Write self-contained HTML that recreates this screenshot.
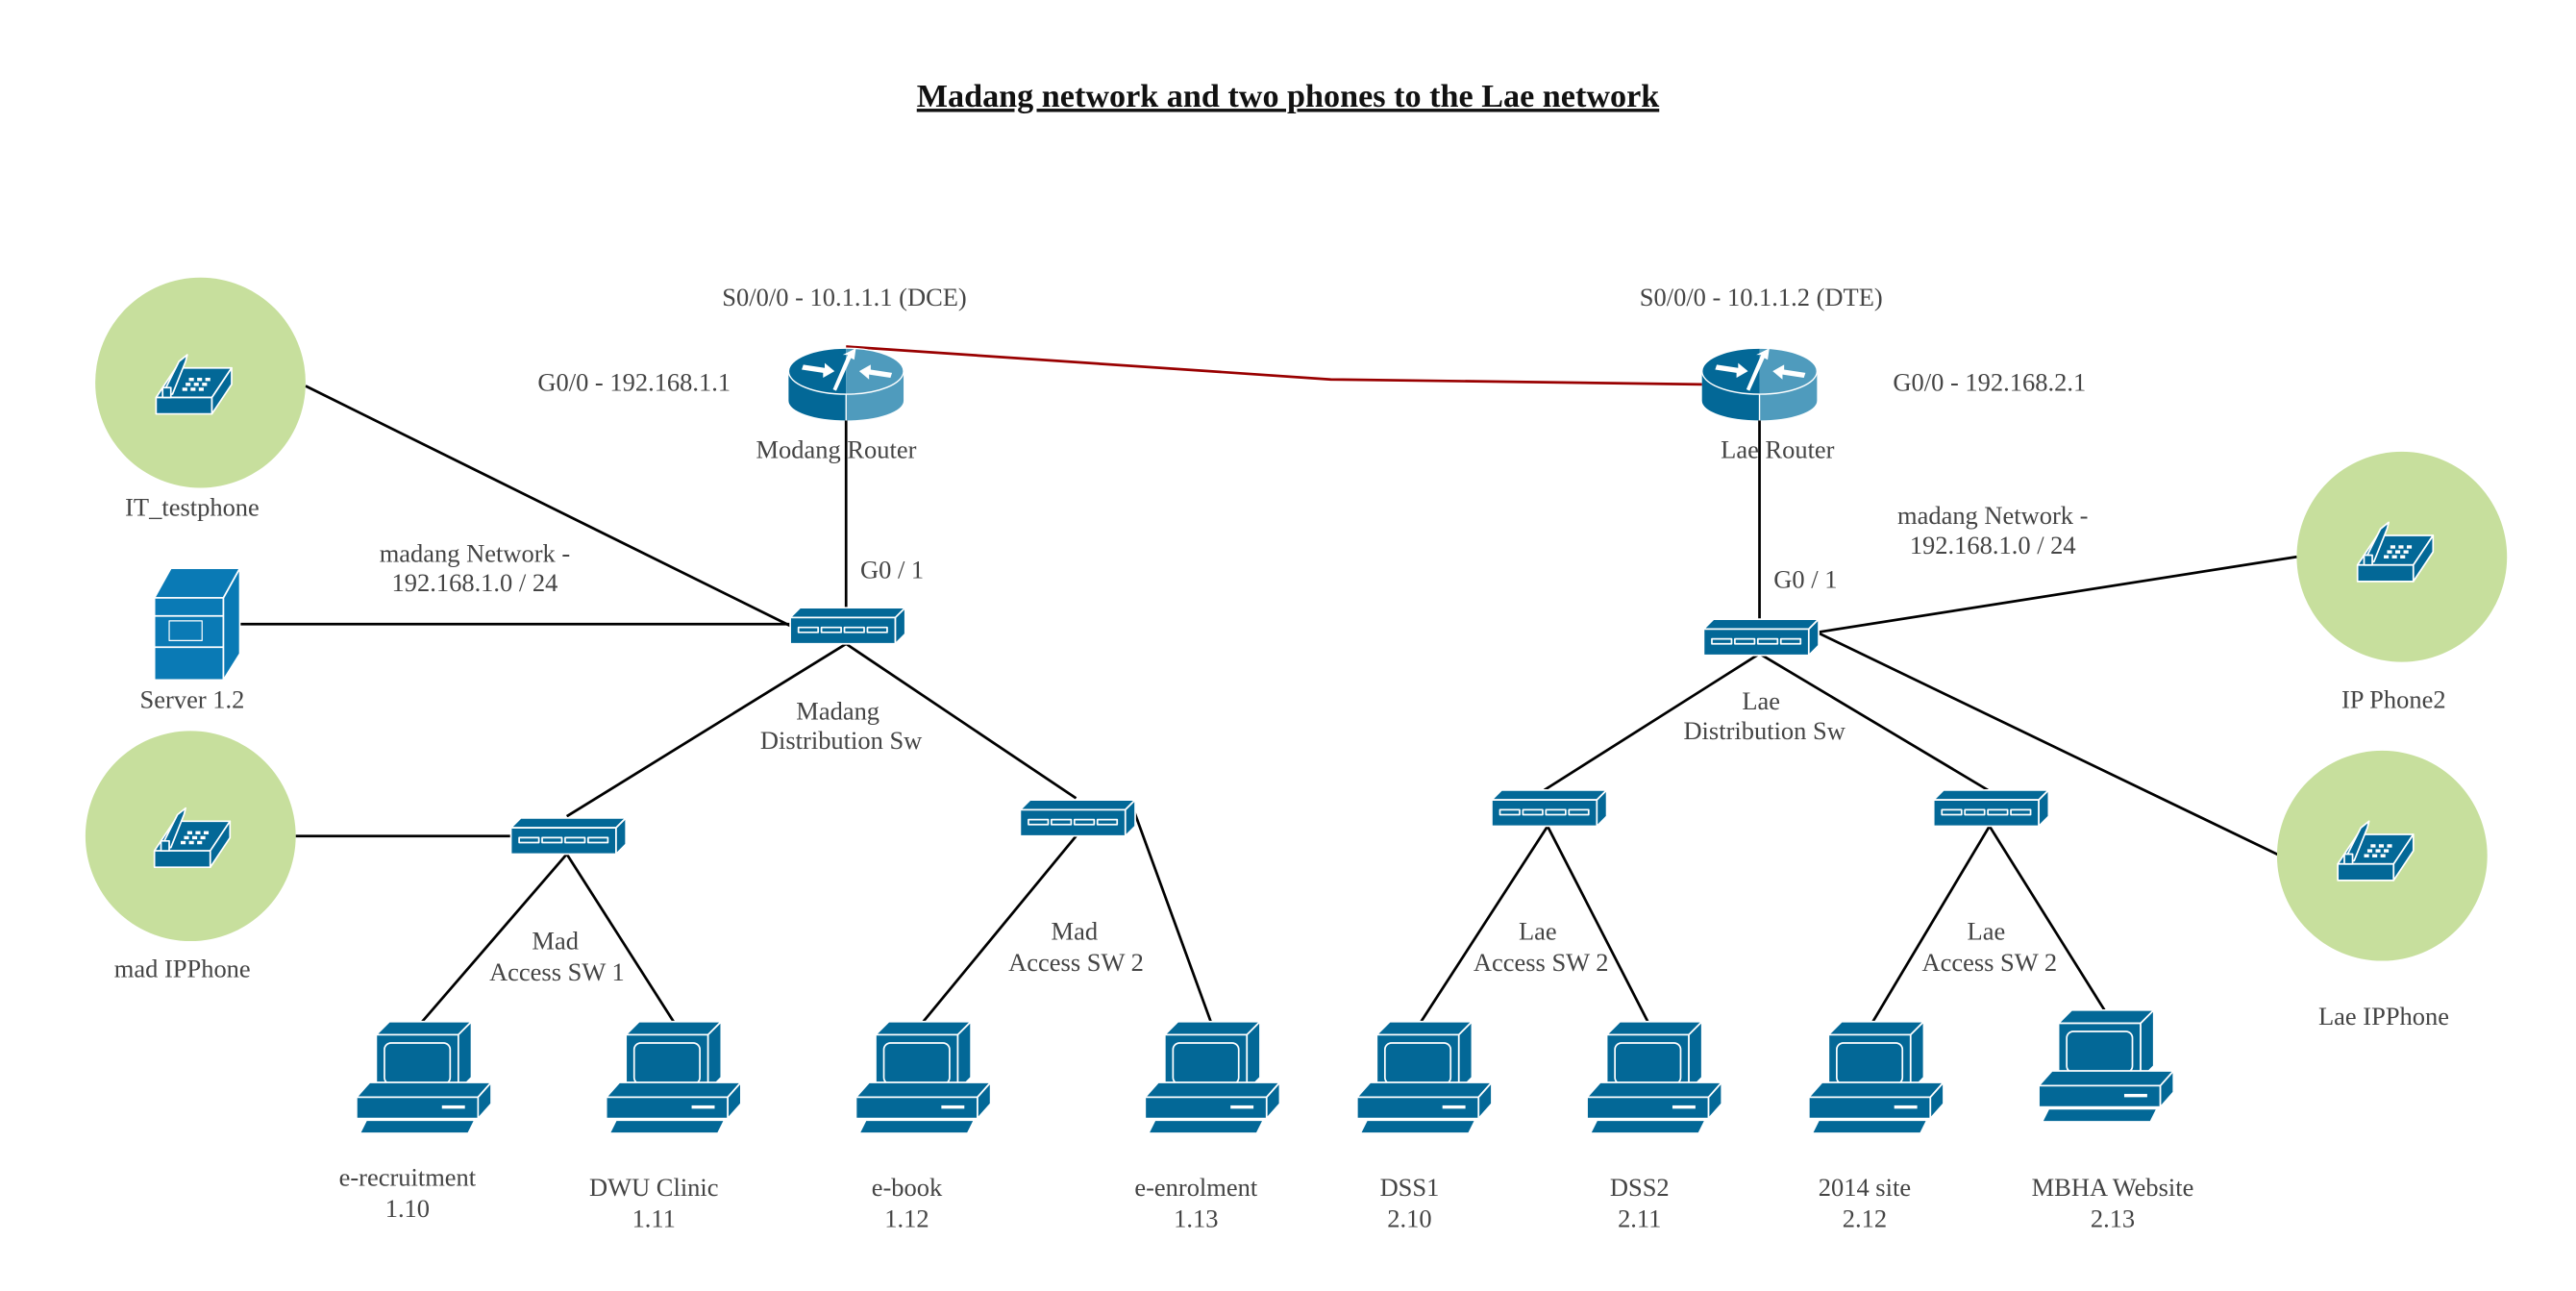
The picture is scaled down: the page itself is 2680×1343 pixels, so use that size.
<!DOCTYPE html>
<html><head><meta charset="utf-8"><style>
html,body{margin:0;padding:0;background:#fff;}
svg{display:block;}
text{font-family:"Liberation Serif",serif;fill:#444;font-size:15.5px;text-anchor:middle;}
</style></head><body>
<svg width="2680" height="1343" viewBox="0 0 1568 786" preserveAspectRatio="none" xmlns="http://www.w3.org/2000/svg">
<defs>
<g id="pc" stroke="#fff" stroke-width="1" stroke-linejoin="round">
 <polygon points="12,8 20,0 70,0 62,8" fill="#036897"/>
 <rect x="12" y="8" width="50" height="34" fill="#036897"/>
 <polygon points="62,8 70,0 70,34 62,42" fill="#036897"/>
 <rect x="17" y="13" width="40" height="25" rx="4" fill="#036897"/>
 <polygon points="0,46 8,37 82,37 74,46" fill="#036897"/>
 <rect x="0" y="46" width="74" height="13" fill="#036897"/>
 <polygon points="74,46 82,37 82,50 74,59" fill="#036897"/>
 <rect x="52" y="51" width="14" height="2" fill="#fff" stroke="none"/>
 <polygon points="2,68 6,60 72,60 68,68" fill="#036897"/>
</g>
<g id="sw" stroke="#fff" stroke-width="1" stroke-linejoin="round">
 <polygon points="0,6 6,0 70,0 64,6" fill="#036897"/>
 <rect x="0" y="6" width="64" height="16" fill="#036897"/>
 <polygon points="64,6 70,0 70,16 64,22" fill="#036897"/>
 <rect x="5" y="12" width="12" height="3" fill="none"/>
 <rect x="19" y="12" width="12" height="3" fill="none"/>
 <rect x="33" y="12" width="12" height="3" fill="none"/>
 <rect x="47" y="12" width="12" height="3" fill="none"/>
</g>
<g id="rt">
 <path d="M0,14 L0,32 A35,12 0 0 0 35,44 L35,28 A35,14 0 0 1 0,14Z" fill="#036897"/>
 <path d="M35,28 L35,44 A35,12 0 0 0 70,32 L70,14 A35,14 0 0 1 35,28Z" fill="#4f9bbd"/>
 <path d="M35,28 A35,14 0 0 1 0,14 A35,14 0 0 1 35,0Z" fill="#036897"/>
 <path d="M35,0 A35,14 0 0 1 70,14 A35,14 0 0 1 35,28Z" fill="#4f9bbd"/>
 <ellipse cx="35" cy="14" rx="35" ry="14" fill="none" stroke="#fff" stroke-width="0.8"/>
 <line x1="35" y1="28" x2="35" y2="44" stroke="#fff" stroke-width="0.8"/>
 <g fill="#fff">
  <polygon points="9,10 22,12 22,9 28,14 21,18 21,15 8,13"/>
  <polygon points="62,18 49,16 49,19 43,14 50,10 50,13 63,15"/>
  <polygon points="27,25 36,4 33,4 41,0 40,7 38,6 29,26"/>
 </g>
</g>
<g id="ph" stroke="#fff" stroke-width="1" stroke-linejoin="round">
 <polygon points="0,26 12,8 46,8 34,26" fill="#036897"/>
 <rect x="0" y="26" width="34" height="10" fill="#036897"/>
 <polygon points="34,26 46,8 46,18 34,36" fill="#036897"/>
 <polygon points="4,24 14,4 19,0 18,4 10,24" fill="#036897"/>
 <rect x="4" y="20" width="5" height="6" fill="#036897"/>
 <g fill="#fff" stroke="none">
  <rect x="20" y="14" width="3" height="2"/><rect x="25" y="14" width="3" height="2"/><rect x="30" y="14" width="3" height="2"/>
  <rect x="18" y="17" width="3" height="2"/><rect x="23" y="17" width="3" height="2"/><rect x="28" y="17" width="3" height="2"/>
  <rect x="16" y="20" width="3" height="2"/><rect x="21" y="20" width="3" height="2"/><rect x="26" y="20" width="3" height="2"/>
 </g>
</g>
</defs>

<text x="784" y="65" style="font-weight:bold;font-size:20px;fill:#111;text-decoration:underline;">Madang network and two phones to the Lae network</text>

<g stroke="#000" stroke-width="1.6" fill="none">
 <line x1="186" y1="235" x2="481" y2="381"/>
 <line x1="146" y1="380" x2="481" y2="380"/>
 <line x1="515" y1="256" x2="515" y2="370"/>
 <line x1="515" y1="392" x2="345" y2="497"/>
 <line x1="515" y1="392" x2="655" y2="486"/>
 <line x1="180" y1="509" x2="311" y2="509"/>
 <line x1="345" y1="520" x2="257" y2="622"/>
 <line x1="345" y1="520" x2="410" y2="622"/>
 <line x1="655" y1="509" x2="562" y2="622"/>
 <line x1="690" y1="493" x2="737" y2="622"/>
 <line x1="1071" y1="256" x2="1071" y2="377"/>
 <line x1="1071" y1="398" x2="940" y2="481"/>
 <line x1="1071" y1="398" x2="1210" y2="481"/>
 <line x1="1106" y1="385" x2="1398" y2="339"/>
 <line x1="1106" y1="385" x2="1388" y2="521"/>
 <line x1="942" y1="503" x2="865" y2="622"/>
 <line x1="942" y1="503" x2="1003" y2="622"/>
 <line x1="1211" y1="503" x2="1140" y2="622"/>
 <line x1="1211" y1="503" x2="1281" y2="615"/>
</g>
<polyline points="515,211 810,231 1036,234" stroke="#990000" stroke-width="1.6" fill="none"/>

<circle cx="122" cy="233" r="64" fill="#c7df9d"/>
<use href="#ph" x="95" y="216"/>
<circle cx="116" cy="509" r="64" fill="#c7df9d"/>
<use href="#ph" x="94" y="492"/>
<circle cx="1462" cy="339" r="64" fill="#c7df9d"/>
<use href="#ph" x="1435" y="318"/>
<circle cx="1450" cy="521" r="64" fill="#c7df9d"/>
<use href="#ph" x="1423" y="500"/>

<g stroke="#fff" stroke-width="1" stroke-linejoin="round">
 <polygon points="94,364 104,346 146,346 136,364" fill="#0a7ab5"/>
 <rect x="94" y="364" width="42" height="50" fill="#0a7ab5"/>
 <polygon points="136,364 146,346 146,398 136,414" fill="#0a7ab5"/>
 <line x1="94" y1="375" x2="136" y2="375"/>
 <line x1="94" y1="394" x2="136" y2="394"/>
 <rect x="103" y="378" width="20" height="12" fill="none" stroke-width="0.7"/>
</g>

<use href="#rt" x="480" y="212"/>
<use href="#rt" x="1036" y="212"/>

<use href="#sw" x="481" y="370"/>
<use href="#sw" x="1037" y="377"/>
<use href="#sw" x="311" y="498"/>
<use href="#sw" x="621" y="487"/>
<use href="#sw" x="908" y="481"/>
<use href="#sw" x="1177" y="481"/>

<use href="#pc" x="217" y="622"/>
<use href="#pc" x="369" y="622"/>
<use href="#pc" x="521" y="622"/>
<use href="#pc" x="697" y="622"/>
<use href="#pc" x="826" y="622"/>
<use href="#pc" x="966" y="622"/>
<use href="#pc" x="1101" y="622"/>
<use href="#pc" x="1241" y="615"/>

<text x="514" y="186">S0/0/0 - 10.1.1.1 (DCE)</text>
<text x="1072" y="186">S0/0/0 - 10.1.1.2 (DTE)</text>
<text x="386" y="238">G0/0 - 192.168.1.1</text>
<text x="1211" y="238">G0/0 - 192.168.2.1</text>
<text x="509" y="279">Modang Router</text>
<text x="1082" y="279">Lae Router</text>
<text x="117" y="314">IT_testphone</text>
<text x="289" y="342">madang Network -</text>
<text x="289" y="360">192.168.1.0 / 24</text>
<text x="1213" y="319">madang Network -</text>
<text x="1213" y="337">192.168.1.0 / 24</text>
<text x="543" y="352">G0 / 1</text>
<text x="1099" y="358">G0 / 1</text>
<text x="117" y="431">Server 1.2</text>
<text x="1457" y="431">IP Phone2</text>
<text x="510" y="438">Madang</text>
<text x="512" y="456">Distribution Sw</text>
<text x="1072" y="432">Lae</text>
<text x="1074" y="450">Distribution Sw</text>
<text x="338" y="578">Mad</text>
<text x="339" y="597">Access SW 1</text>
<text x="654" y="572">Mad</text>
<text x="655" y="591">Access SW 2</text>
<text x="936" y="572">Lae</text>
<text x="938" y="591">Access SW 2</text>
<text x="1209" y="572">Lae</text>
<text x="1211" y="591">Access SW 2</text>
<text x="111" y="595">mad IPPhone</text>
<text x="1451" y="624">Lae IPPhone</text>
<text x="248" y="722">e-recruitment</text>
<text x="248" y="741">1.10</text>
<text x="398" y="728">DWU Clinic</text>
<text x="398" y="747">1.11</text>
<text x="552" y="728">e-book</text>
<text x="552" y="747">1.12</text>
<text x="728" y="728">e-enrolment</text>
<text x="728" y="747">1.13</text>
<text x="858" y="728">DSS1</text>
<text x="858" y="747">2.10</text>
<text x="998" y="728">DSS2</text>
<text x="998" y="747">2.11</text>
<text x="1135" y="728">2014 site</text>
<text x="1135" y="747">2.12</text>
<text x="1286" y="728">MBHA Website</text>
<text x="1286" y="747">2.13</text>
</svg>
</body></html>
